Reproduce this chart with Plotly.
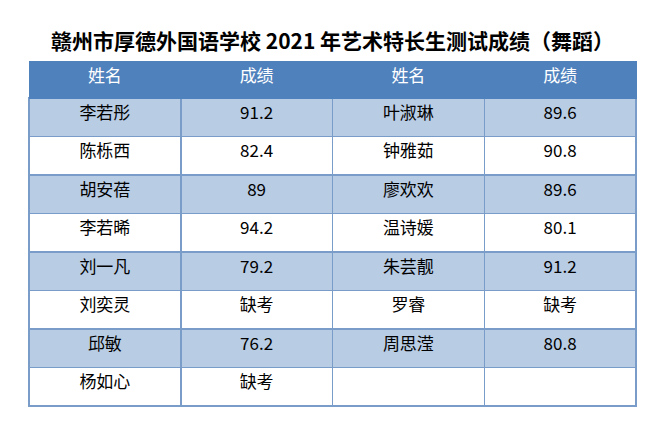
import plotly.graph_objects as go

names_left = ["李若彤", "陈栎西", "胡安蓓", "李若晞", "刘一凡", "刘奕灵", "邱敏", "杨如心"]
scores_left = ["91.2", "82.4", "89", "94.2", "79.2", "缺考", "76.2", "缺考"]
names_right = ["叶淑琳", "钟雅茹", "廖欢欢", "温诗媛", "朱芸靓", "罗睿", "周思滢", ""]
scores_right = ["89.6", "90.8", "89.6", "80.1", "91.2", "缺考", "80.8", ""]
headers = ["姓名", "成绩", "姓名", "成绩"]

fill = ["#b8cce4" if i % 2 == 0 else "white" for i in range(len(names_left))]

fig = go.Figure(go.Table(
    columnwidth=[1, 1, 1, 1],
    header=dict(values=headers, fill_color="#4f81bd", line_color="#4f81bd",
                font=dict(color="white", size=17, family="Noto Sans CJK SC"),
                align="center", height=37),
    cells=dict(values=[names_left, scores_left, names_right, scores_right],
               fill_color=[fill] * 4, line=dict(color="#7a9cc8", width=1.5),
               font=dict(color="black", size=17, family="Noto Sans CJK SC"),
               align="center", height=38.5),
))
fig.update_layout(
    width=650, height=434, margin=dict(l=21, r=22, t=53, b=0),
    paper_bgcolor="white",
    annotations=[dict(text="<b>赣州市厚德外国语学校 2021 年艺术特长生测试成绩（舞蹈）</b>",
                      x=0.5, xref="paper", y=1, yref="paper", yshift=38, showarrow=False,
                      font=dict(size=21, family="Noto Sans CJK SC", color="black"))],
)
fig.write_html("out.html")
